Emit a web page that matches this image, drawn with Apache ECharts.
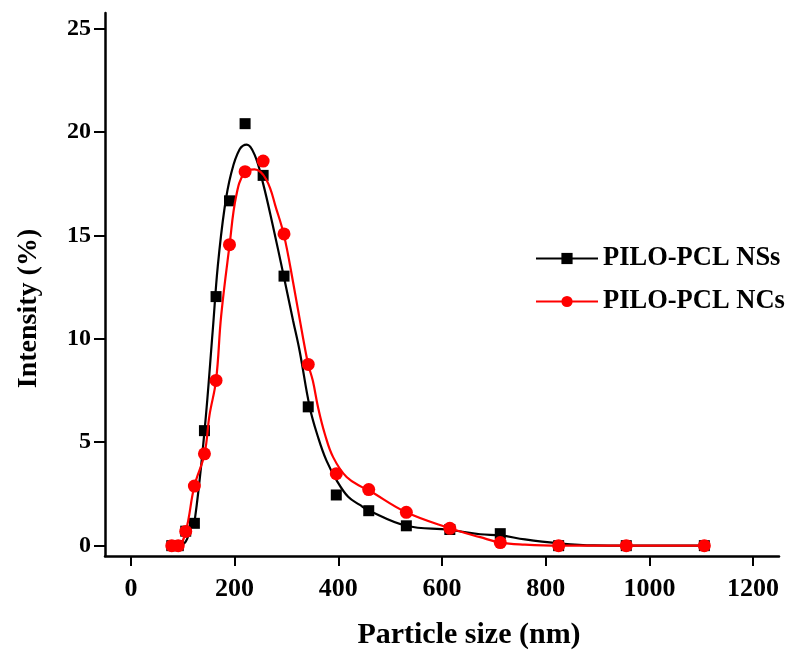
<!DOCTYPE html>
<html>
<head>
<meta charset="utf-8">
<script src="https://cdn.jsdelivr.net/npm/echarts@6/dist/echarts.min.js"></script>
<style>html,body{margin:0;padding:0;background:#fff;}#c{width:792px;height:655px;}</style>
</head>
<body>
<div id="c"></div>
<script>
// Measured size bins (nm)
var sizes = [78.8, 91.3, 105.7, 122.4, 141.8, 164.2, 190.1, 220.2, 255, 295.3, 342, 396.1, 458.7, 531.2, 615.1, 712.4, 825, 955.4, 1106];
// Measured intensity (%)
var nssValues = [0, 0, 0.7, 1.08, 5.56, 12.04, 16.67, 20.4, 17.9, 13.03, 6.71, 2.45, 1.69, 0.96, 0.78, 0.58, 0, 0, 0];
var ncsValues = [0, 0, 0.69, 2.88, 4.44, 7.99, 14.55, 18.08, 18.59, 15.07, 8.76, 3.48, 2.71, 1.61, 0.84, 0.15, 0, 0, 0];
// Fitted curves
var nssCurveX = [78.8, 91.3, 105.7, 116, 122.4, 141.8, 157.8, 167.5, 180.5, 193.4, 209.5, 223.6, 238.5, 254.5, 273.9, 294.6, 312.6, 325.5, 345, 361, 377, 396.5, 419, 441.6, 458.7, 531.2, 614, 673.7, 712.4, 760, 822, 893, 955.4, 1106];
var nssCurveY = [0, 0, 0.2, 0.9, 1.1, 5.5, 10.4, 13.5, 16.3, 18.0, 19.15, 19.39, 18.9, 17.55, 15.45, 13.05, 10.9, 9.4, 6.68, 5.24, 4.12, 3.17, 2.36, 1.97, 1.7, 0.96, 0.77, 0.55, 0.5, 0.3, 0.12, 0.01, 0, 0];
var ncsCurveX = [78.8, 91.3, 105.7, 122.4, 141.8, 151.5, 164.2, 174, 190.1, 203, 219, 238.5, 261, 280.5, 295.3, 312.6, 332, 342, 351, 361, 374, 390, 416, 451, 458.7, 531.2, 615.1, 673.7, 712.4, 760, 825, 955.4, 1106];
var ncsCurveY = [0, 0, 0.69, 2.88, 4.42, 6.3, 8.0, 11.1, 14.5, 16.9, 18.03, 18.19, 17.7, 16.27, 15.0, 12.76, 10.04, 8.76, 7.96, 6.68, 5.4, 4.28, 3.32, 2.76, 2.68, 1.61, 0.84, 0.41, 0.15, 0.05, 0, 0, 0];
// Axis ticks
var xTicks = [0, 200, 400, 600, 800, 1000, 1200];
var yTicks = [0, 5, 10, 15, 20, 25];
var seriesNames = ['PILO-PCL NSs', 'PILO-PCL NCs'];

function pairs(xs, ys) { return xs.map(function (x, i) { return [x, ys[i]]; }); }

var font = 'Liberation Serif, Times New Roman, serif';
var chart = echarts.init(document.getElementById('c'), null, { renderer: 'canvas' });
var axisLineStyle = { color: '#000', width: 2.5 };
chart.setOption({
  animation: false,
  backgroundColor: '#fff',
  grid: { left: 105, right: 13, top: 13, bottom: 95, containLabel: false },
  legend: {
    data: seriesNames,
    orient: 'vertical',
    left: 530,
    top: 240,
    itemWidth: 62,
    itemHeight: 14,
    itemGap: 16,
    textStyle: { fontFamily: font, fontWeight: 'bold', fontSize: 26.5, color: '#000' }
  },
  xAxis: {
    type: 'value',
    min: -50,
    max: 1250,
    name: 'Particle size (nm)',
    nameLocation: 'middle',
    nameGap: 64,
    nameTextStyle: { fontFamily: font, fontWeight: 'bold', fontSize: 30, color: '#000', padding: [0, 0, 0, 54] },
    axisLine: { show: true, onZero: false, lineStyle: axisLineStyle },
    axisTick: { show: true, inside: false, length: 10, lineStyle: { color: '#000', width: 2 }, customValues: xTicks },
    axisLabel: { customValues: xTicks, margin: 20, fontFamily: font, fontWeight: 'bold', fontSize: 26, color: '#000',
      formatter: function (v) { return String(v); } },
    splitLine: { show: false }
  },
  yAxis: {
    type: 'value',
    min: -0.5,
    max: 25.75,
    name: 'Intensity (%)',
    nameLocation: 'middle',
    nameGap: 62,
    nameRotate: 90,
    nameTextStyle: { fontFamily: font, fontWeight: 'bold', fontSize: 28, color: '#000', padding: [0, 48, 0, 0] },
    axisLine: { show: true, onZero: false, lineStyle: axisLineStyle },
    axisTick: { show: true, inside: false, length: 11, lineStyle: { color: '#000', width: 2 }, customValues: yTicks },
    axisLabel: { customValues: yTicks, margin: 14, fontFamily: font, fontWeight: 'bold', fontSize: 24, color: '#000',
      formatter: function (v) { return String(v); } },
    splitLine: { show: false }
  },
  series: [
    {
      name: seriesNames[0], type: 'line', data: pairs(nssCurveX, nssCurveY),
      smooth: 0.4, showSymbol: false, symbol: 'rect', symbolSize: 11,
      lineStyle: { color: '#000', width: 2.2 }, itemStyle: { color: '#000' }, z: 2
    },
    {
      name: seriesNames[0], type: 'line', data: pairs(sizes, nssValues),
      symbol: 'rect', symbolSize: 11, lineStyle: { width: 0, opacity: 0 }, itemStyle: { color: '#000' }, z: 3
    },
    {
      name: seriesNames[1], type: 'line', data: pairs(ncsCurveX, ncsCurveY),
      smooth: 0.4, showSymbol: false, symbol: 'circle', symbolSize: 13,
      lineStyle: { color: '#ff0000', width: 2.2 }, itemStyle: { color: '#ff0000' }, z: 4
    },
    {
      name: seriesNames[1], type: 'line', data: pairs(sizes, ncsValues),
      symbol: 'circle', symbolSize: 13, lineStyle: { width: 0, opacity: 0 }, itemStyle: { color: '#ff0000' }, z: 5
    }
  ]
});
</script>
</body>
</html>
